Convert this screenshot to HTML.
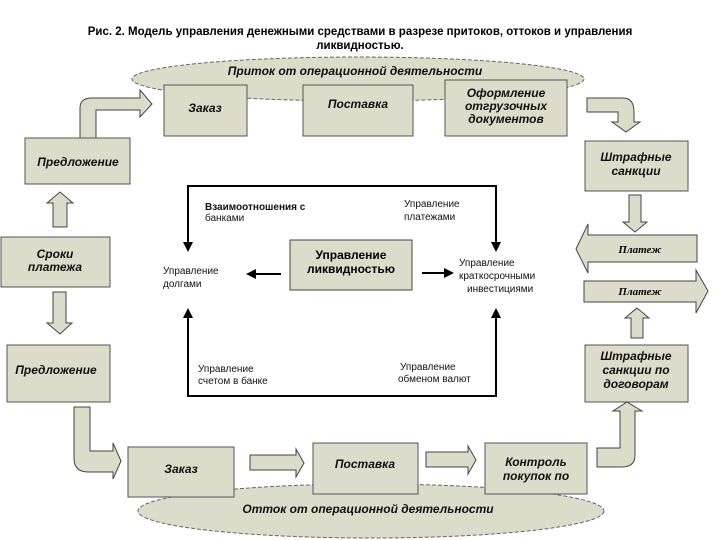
<!DOCTYPE html>
<html><head><meta charset="utf-8"><style>
html,body{margin:0;padding:0;background:#fff;}
svg{display:block;font-family:"Liberation Sans","DejaVu Sans",sans-serif;}
.b{fill:#dcdccb;stroke:#555;stroke-width:1;}
.a{fill:#dcdccb;stroke:#444;stroke-width:1;}
.t{font-style:italic;font-weight:bold;font-size:12px;fill:#111;text-anchor:middle;}
.s{font-size:10px;fill:#111;}
</style></head><body>
<svg width="720" height="540" viewBox="0 0 720 540">
<text x="360" y="35" text-anchor="middle" font-size="11.5" font-weight="bold">Рис. 2. Модель управления денежными средствами в разрезе притоков, оттоков и управления</text>
<text x="360" y="49" text-anchor="middle" font-size="11.5" font-weight="bold">ликвидностью.</text>

<!-- top ellipse -->
<ellipse cx="358" cy="79" rx="226" ry="22" fill="#dcdccb" stroke="#666" stroke-dasharray="4,2"/>
<text x="355" y="75" class="t" font-size="12.5">Приток от операционной деятельности</text>

<rect class="b" x="164" y="85" width="83" height="51"/>
<text class="t" x="205" y="112">Заказ</text>
<rect class="b" x="303" y="85" width="110" height="51"/>
<text class="t" x="358" y="108">Поставка</text>
<rect class="b" x="445" y="80" width="122" height="56"/>
<text class="t" x="506" y="97">Оформление</text>
<text class="t" x="506" y="110">отгрузочных</text>
<text class="t" x="506" y="123">документов</text>

<!-- top-left bent arrow -->
<path class="a" d="M80,138 L80,108 Q80,98 92,98 L140,98 L140,90 L152,104 L140,117 L140,110 L96,110 L96,138 Z"/>
<!-- top-right bent arrow -->
<path class="a" d="M587,98 L623,98 Q634,98 634,112 L634,122 L640,122 L626,132 L612,122 L618,122 L618,112 L587,112 Z"/>

<rect class="b" x="25" y="138" width="105" height="46"/>
<text class="t" x="78" y="166">Предложение</text>
<rect class="b" x="585" y="141" width="103" height="50"/>
<text class="t" x="636" y="161">Штрафные</text>
<text class="t" x="636" y="175">санкции</text>

<!-- left vertical arrows -->
<path class="a" d="M53,227 L53,203 L47,203 L60,192 L73,203 L67,203 L67,227 Z"/>
<rect class="b" x="1" y="237" width="109" height="50"/>
<text class="t" x="55" y="258">Сроки</text>
<text class="t" x="55" y="271">платежа</text>
<path class="a" d="M53,292 L66,292 L66,323 L72,323 L60,334 L47,323 L53,323 Z"/>
<rect class="b" x="7" y="345" width="103" height="57"/>
<text class="t" x="56" y="374">Предложение</text>

<!-- right vertical arrows -->
<path class="a" d="M629,195 L641,195 L641,222 L647,222 L635,232 L623,222 L629,222 Z"/>
<path class="a" d="M697,235 L588,235 L588,224 L576,249 L588,273 L588,262 L697,262 Z"/>
<text x="640" y="253" text-anchor="middle" font-family="Liberation Serif,serif" font-style="italic" font-weight="bold" font-size="11">Платеж</text>
<path class="a" d="M584,281 L696,281 L696,270 L708,291 L696,313 L696,302 L584,302 Z"/>
<text x="640" y="295" text-anchor="middle" font-family="Liberation Serif,serif" font-style="italic" font-weight="bold" font-size="11">Платеж</text>
<path class="a" d="M631,338 L631,318 L625,318 L637,308 L649,318 L643,318 L643,338 Z"/>
<rect class="b" x="585" y="345" width="103" height="57"/>
<text class="t" x="636" y="360">Штрафные</text>
<text class="t" x="636" y="374">санкции по</text>
<text class="t" x="636" y="388">договорам</text>

<!-- central frame -->
<g stroke="#000" stroke-width="2" fill="none">
<path d="M188,246 L188,186 L496,186 L496,246"/>
<path d="M188,310 L188,396 L496,396 L496,310"/>
<line x1="281" y1="274" x2="254" y2="274"/>
<line x1="422" y1="273" x2="446" y2="273"/>
</g>
<g fill="#000">
<path d="M183,242 L193,242 L188,252 Z"/>
<path d="M491,242 L501,242 L496,252 Z"/>
<path d="M183,318 L193,318 L188,308 Z"/>
<path d="M491,318 L501,318 L496,308 Z"/>
<path d="M246,274 L256,269 L256,279 Z"/>
<path d="M454,273 L444,268 L444,278 Z"/>
</g>
<rect x="290" y="240" width="122" height="50" fill="#dcdccb" stroke="#444"/>
<text x="351" y="259" text-anchor="middle" font-size="12" font-weight="bold">Управление</text>
<text x="351" y="273" text-anchor="middle" font-size="12" font-weight="bold">ликвидностью</text>
<text class="s" x="205" y="210" font-weight="bold">Взаимоотношения   с</text>
<text class="s" x="205" y="221">банками</text>
<text class="s" x="404" y="207">Управление</text>
<text class="s" x="404" y="220">платежами</text>
<text class="s" x="163" y="274">Управление</text>
<text class="s" x="163" y="287">долгами</text>
<text class="s" x="459" y="266">Управление</text>
<text class="s" x="459" y="279">краткосрочными</text>
<text class="s" x="467" y="292">инвестициями</text>
<text class="s" x="198" y="372">Управление</text>
<text class="s" x="198" y="384">счетом в банке</text>
<text class="s" x="400" y="370">Управление</text>
<text class="s" x="398" y="382">обменом валют</text>

<!-- bottom ellipse -->
<ellipse cx="371" cy="511" rx="233" ry="27" fill="#dcdccb" stroke="#666" stroke-dasharray="4,2"/>
<text class="t" x="368" y="513" font-size="12.5">Отток от операционной деятельности</text>

<!-- bottom-left bent arrow -->
<path class="a" d="M74,407 L90,407 L90,451 L113,451 L113,443 L121,461 L113,479 L113,472 L88,472 Q74,472 74,458 Z"/>
<rect class="b" x="128" y="447" width="106" height="50"/>
<text class="t" x="181" y="473">Заказ</text>
<path class="a" d="M250,455 L296,455 L296,449 L304,463 L296,477 L296,470 L250,470 Z"/>
<rect class="b" x="313" y="443" width="105" height="51"/>
<text class="t" x="365" y="468">Поставка</text>
<path class="a" d="M426,452 L468,452 L468,446 L476,460 L468,474 L468,467 L426,467 Z"/>
<rect class="b" x="485" y="443" width="102" height="51"/>
<text class="t" x="536" y="466">Контроль</text>
<text class="t" x="536" y="480">покупок по</text>
<!-- bottom-right bent arrow -->
<path class="a" d="M597,448 L620,448 L620,411 L613,411 L627,402 L642,411 L635,411 L635,455 Q635,467 622,467 L597,467 Z"/>
</svg>
</body></html>
